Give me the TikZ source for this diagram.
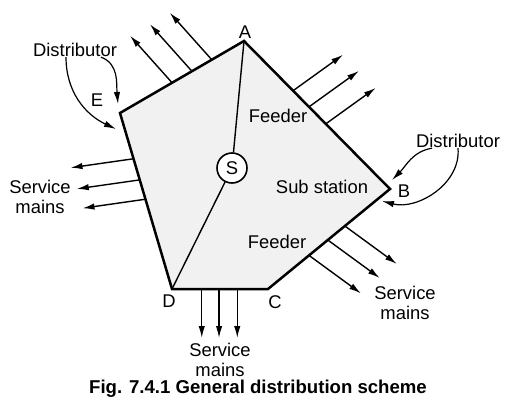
\documentclass[tikz,border=0pt]{standalone}
\usepackage{fontspec}
\setmainfont{Liberation Sans}
\usetikzlibrary{calc, positioning}
\usetikzlibrary{arrows.meta}

\begin{document}
\begin{tikzpicture}[
    x=0.5pt, y=-0.5pt,
    every node/.style={font=\fontsize{9.2}{10}\selectfont, inner sep=0pt},
    area line/.style={line width=1.25pt, fill=gray!11, line join=miter},
    feeder line/.style={line width=0.7pt},
    service arrow/.style={line width=0.7pt, -{Latex[length=6pt, width=3.2pt]}},
    dist arrow/.style={line width=0.6pt, -{Latex[length=6pt, width=3.2pt]}},
    station node/.style={circle, draw, line width=0.8pt, fill=white, minimum size=15pt, inner sep=0pt},
    two line/.style={align=center}
]
\useasboundingbox (0,0) rectangle (517,417);
% Corners of the area
\coordinate (A) at (244,41);
\coordinate (B) at (390,189);
\coordinate (C) at (268,289);
\coordinate (D) at (172,289);
\coordinate (E) at (120,113);
\draw[area line] (A) -- (B) -- (C) -- (D) -- (E) -- cycle;
% Sub station and feeders
\node[station node] (S) at (232,168) {S};
\draw[feeder line] (A) -- (S) (S) -- (D);
% Corner labels
\node (lblA) at (245,32) {A};
\node (lblB) at (404,191) {B};
\node (lblC) at (275,302) {C};
\node (lblD) at (169,301) {D};
\node (lblE) at (97,100) {E};
\node (feedUp) at (278,116) {Feeder};
\node (feedDown) at (277,242) {Feeder};
\node (subSt) at (322,187) {Sub station};
% Service mains
\foreach \f in {0.26,0.42,0.58}
    \draw[service arrow] ($(A)!\f!(E)$) -- ++(-42,-47);
\foreach \f in {0.336,0.445,0.56}
    \draw[service arrow] ($(A)!\f!(B)$) -- ++(50,-36);
\foreach \f in {0.26,0.38,0.49}
    \draw[service arrow] ($(E)!\f!(D)$) -- ++(-63,9);
\foreach \f in {0.31,0.49,0.68}
    \draw[service arrow] ($(D)!\f!(C)$) -- ++(0,49);
\foreach \f in {0.336,0.49,0.63}
    \draw[service arrow] ($(C)!\f!(B)$) -- ++(52,38);
\node[two line] (svcLeft) at (40,197) {Service\\mains};
\node[two line] (svcBottom) at (220,360) {Service\\mains};
\node[two line] (svcRight) at (405,303) {Service\\mains};
% Distributors
\node (distLeft) at (75,50) {Distributor};
\node (distRight) at (458,141) {Distributor};
\coordinate (tipE1) at (116,129);
\coordinate (tipE2) at (118,104);
\coordinate (tipB1) at (392,180);
\coordinate (tipB2) at (382,201);
\draw[dist arrow] ([xshift=-4.5pt]distLeft.south) to[out=-90, in=155] (tipE1);
\draw[dist arrow] ([xshift=13pt]distLeft.south) to[out=-20, in=95] (tipE2);
\draw[dist arrow] ([xshift=-13pt]distRight.south) to[out=190, in=45] (tipB1);
\draw[dist arrow] ([xshift=0pt]distRight.south) to[out=-85, in=-15] (tipB2);
% Caption
\node[font=\bfseries\fontsize{9.3}{10}\selectfont] (caption) at (258,389) {Fig. 7.4.1 General distribution scheme};
\end{tikzpicture}
\end{document}
